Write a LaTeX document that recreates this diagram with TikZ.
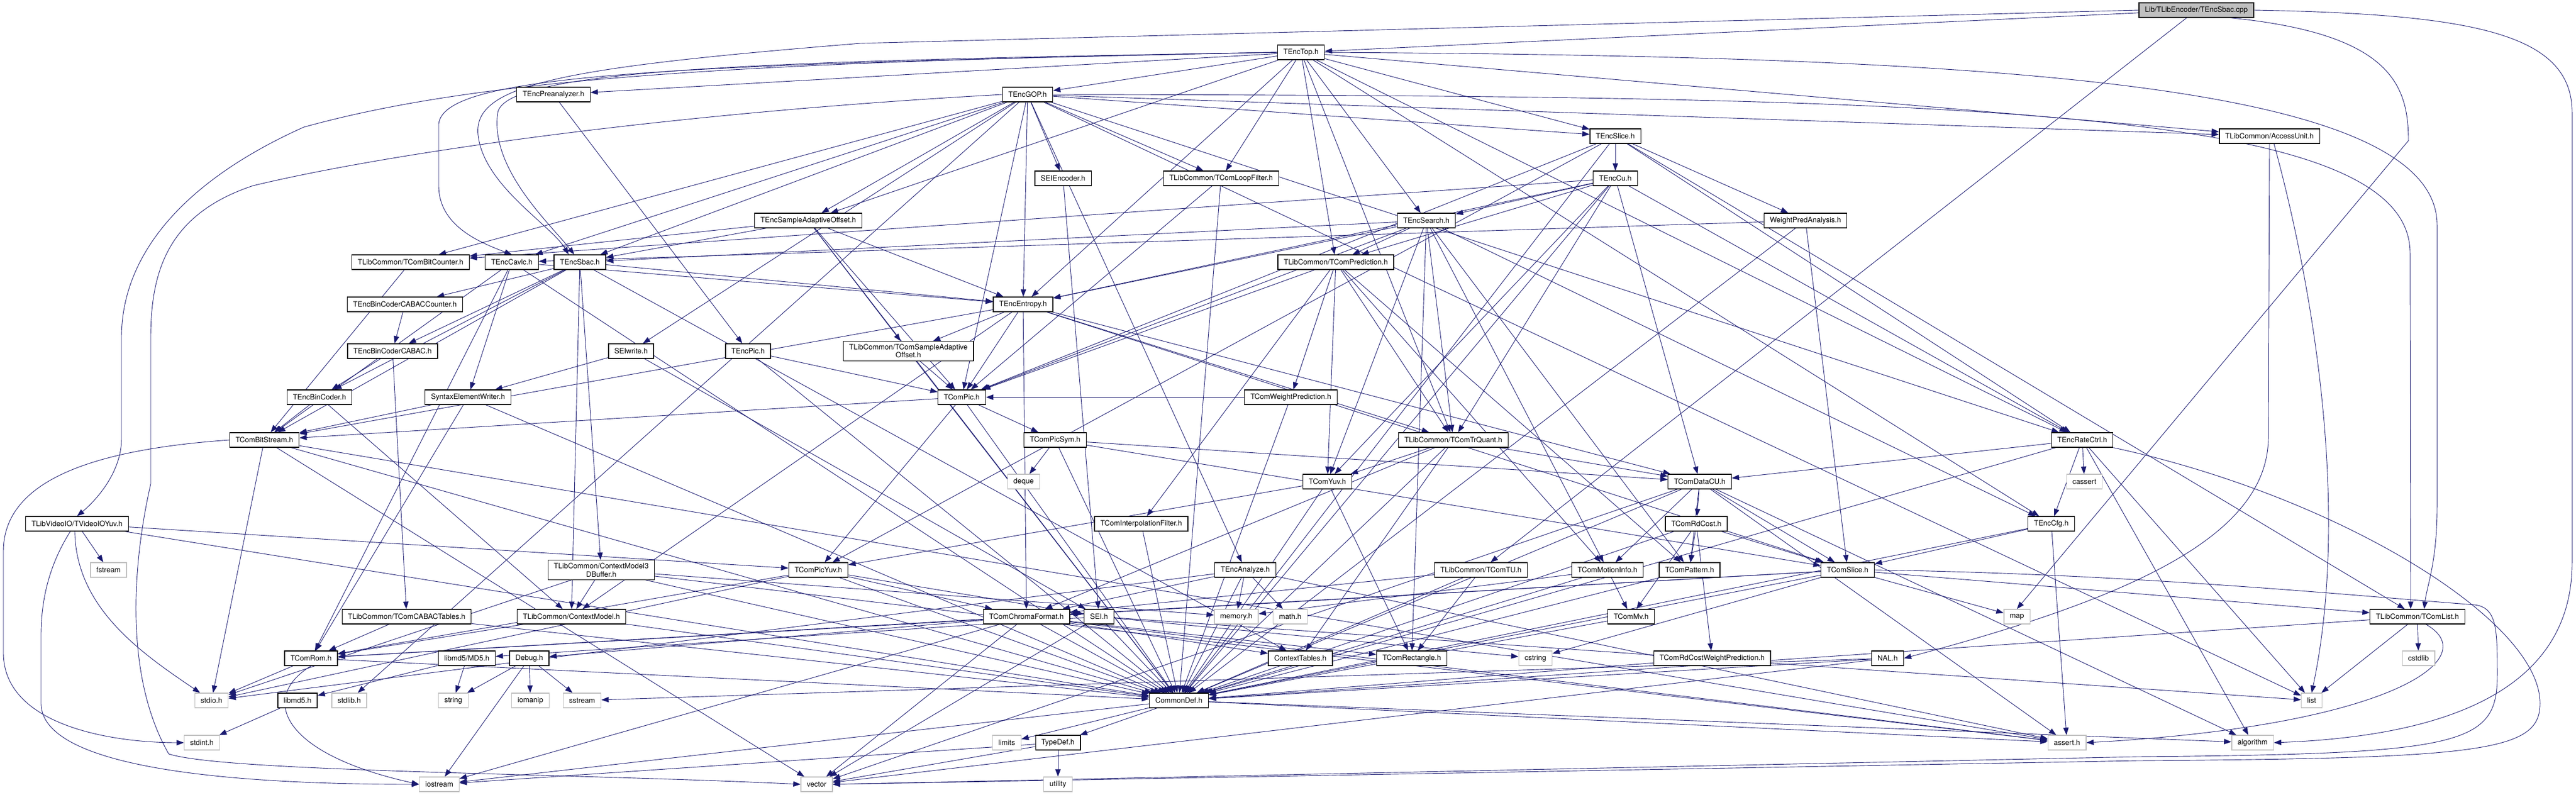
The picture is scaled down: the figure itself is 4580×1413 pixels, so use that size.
\documentclass[tikz,border=0pt]{standalone}
\usepackage{fontspec}
\setmainfont{TeX Gyre Heros}
\usetikzlibrary{arrows.meta}
\definecolor{eblue}{HTML}{191970}
\definecolor{sysgray}{HTML}{BFBFBF}
\newcommand{\dgfont}{\fontsize{13}{14.5}\selectfont}
\pgfdeclarelayer{bg}
\pgfsetlayers{bg,main}
\begin{document}
\begin{tikzpicture}[x=1pt,y=-1pt,
  nd/.style={draw=black, fill=white, line width=1.3pt, minimum height=26pt, inner xsep=10.5pt, inner ysep=2pt, font=\dgfont, text=black},
  twoln/.style={nd, align=center, inner ysep=5pt},
  sysnd/.style={nd, draw=sysgray},
  rootnd/.style={nd, fill=sysgray},
  edge/.style={draw=eblue, line width=0.9pt, -{Triangle[length=13pt,width=9.5pt]}}]
\useasboundingbox (0,0) rectangle (4580,1413);
\begin{pgfonlayer}{bg}
\fill[white] (0,0) rectangle (4580,1413);
\end{pgfonlayer}
% ---------- nodes ----------
\node[rootnd] (cpp) at (3905,18) {Lib/TLibEncoder/TEncSbac.cpp};
\node[nd] (top) at (2313,93) {TEncTop.h};
\node[nd] (prea) at (984,168) {TEncPreanalyzer.h};
\node[nd] (gop) at (1827,168) {TEncGOP.h};
\node[nd] (slice) at (2872,242) {TEncSlice.h};
\node[nd] (au) at (4035,242) {TLibCommon/AccessUnit.h};
\node[nd] (seienc) at (1890,317) {SEIEncoder.h};
\node[nd] (lf) at (2171,317) {TLibCommon/TComLoopFilter.h};
\node[nd] (cu) at (2872,317) {TEncCu.h};
\node[nd] (esao) at (1437,392) {TEncSampleAdaptiveOffset.h};
\node[nd] (search) at (2536,392) {TEncSearch.h};
\node[nd] (wpa) at (3210,392) {WeightPredAnalysis.h};
\node[nd] (bitcnt) at (730,466) {TLibCommon/TComBitCounter.h};
\node[nd] (cavlc) at (910,466) {TEncCavlc.h};
\node[nd] (sbac) at (1031,466) {TEncSbac.h};
\node[nd] (pred) at (2375,466) {TLibCommon/TComPrediction.h};
\node[nd] (cabaccnt) at (720,541) {TEncBinCoderCABACCounter.h};
\node[nd] (entropy) at (1819,541) {TEncEntropy.h};
\node[nd] (cabac) at (698,624) {TEncBinCoderCABAC.h};
\node[nd] (seiw) at (1122,624) {SEIwrite.h};
\node[nd] (encpic) at (1330,624) {TEncPic.h};
\node[twoln] (sao) at (1615,624) {TLibCommon/TComSampleAdaptive\\Offset.h};
\node[nd] (bincoder) at (568,706) {TEncBinCoder.h};
\node[nd] (sew) at (832,706) {SyntaxElementWriter.h};
\node[nd] (pic) at (1710,706) {TComPic.h};
\node[nd] (wp) at (2295,706) {TComWeightPrediction.h};
\node[nd] (bs) at (470,782) {TComBitStream.h};
\node[nd] (picsym) at (1876,782) {TComPicSym.h};
\node[nd] (trq) at (2584,782) {TLibCommon/TComTrQuant.h};
\node[nd] (rc) at (3702,782) {TEncRateCtrl.h};
\node[sysnd] (deque) at (1820,856) {deque};
\node[nd] (yuv) at (2360,856) {TComYuv.h};
\node[nd] (datacu) at (3022,856) {TComDataCU.h};
\node[sysnd] (cassert) at (3706,856) {cassert};
\node[nd] (vio) at (137,931) {TLibVideoIO/TVideoIOYuv.h};
\node[nd] (interp) at (2029,931) {TComInterpolationFilter.h};
\node[nd] (rdcost) at (3016,931) {TComRdCost.h};
\node[nd] (cfg) at (3647,931) {TEncCfg.h};
\node[sysnd] (fstream) at (193,1013) {fstream};
\node[twoln] (cm3d) at (1069,1013) {TLibCommon/ContextModel3\\DBuffer.h};
\node[nd] (picyuv) at (1455,1013) {TComPicYuv.h};
\node[nd] (analyze) at (2214,1013) {TEncAnalyze.h};
\node[nd] (tu) at (2633,1013) {TLibCommon/TComTU.h};
\node[nd] (mi) at (2858,1013) {TComMotionInfo.h};
\node[nd] (pattern) at (3004,1013) {TComPattern.h};
\node[nd] (tslice) at (3285,1013) {TComSlice.h};
\node[nd] (cabact) at (723,1096) {TLibCommon/TComCABACTables.h};
\node[nd] (cm) at (1016,1096) {TLibCommon/ContextModel.h};
\node[nd] (chroma) at (1825,1096) {TComChromaFormat.h};
\node[nd] (sei) at (1954,1096) {SEI.h};
\node[sysnd] (memory) at (2198,1096) {memory.h};
\node[sysnd] (math) at (2294,1096) {math.h};
\node[nd] (mv) at (2900,1096) {TComMv.h};
\node[sysnd] (map) at (3586,1096) {map};
\node[nd] (tlist) at (4298,1096) {TLibCommon/TComList.h};
\node[nd] (rom) at (553,1170) {TComRom.h};
\node[nd] (md5) at (830,1170) {libmd5/MD5.h};
\node[nd] (debug) at (941,1170) {Debug.h};
\node[nd] (ctxtab) at (2312,1170) {ContextTables.h};
\node[nd] (rect) at (2510,1170) {TComRectangle.h};
\node[sysnd] (cstring) at (2730,1170) {cstring};
\node[nd] (rdwp) at (3044,1170) {TComRdCostWeightPrediction.h};
\node[nd] (nal) at (3356,1170) {NAL.h};
\node[sysnd] (cstdlib) at (4300,1170) {cstdlib};
\node[sysnd] (stdio) at (376,1245) {stdio.h};
\node[nd] (libmd5) at (529,1245) {libmd5.h};
\node[sysnd] (stdlib) at (621,1245) {stdlib.h};
\node[sysnd] (string) at (806,1245) {string};
\node[sysnd] (iomanip) at (943,1245) {iomanip};
\node[sysnd] (sstream) at (1035,1245) {sstream};
\node[nd] (cdef) at (2096,1245) {CommonDef.h};
\node[sysnd] (list) at (4110,1245) {list};
\node[sysnd] (stdint) at (359,1320) {stdint.h};
\node[sysnd] (limits) at (1790,1320) {limits};
\node[nd] (typedef) at (1881,1320) {TypeDef.h};
\node[sysnd] (assert) at (3675,1320) {assert.h};
\node[sysnd] (algorithm) at (4005,1320) {algorithm};
\node[sysnd] (iostream) at (781,1394) {iostream};
\node[sysnd] (vector) at (1452,1394) {vector};
\node[sysnd] (utility) at (1881,1394) {utility};
% ---------- edges ----------
\begin{pgfonlayer}{bg}
\foreach \a/\b in {cpp/top, cpp/tu,
  top/prea, top/gop, top/lf, top/slice, top/search, top/pred, top/trq, top/au, top/rc, top/cfg, top/entropy, top/esao,
  gop/pic, gop/bitcnt, gop/lf, gop/au, gop/esao, gop/slice, gop/entropy, gop/cavlc, gop/sbac, gop/seiw, gop/seienc, gop/analyze, gop/rc, gop/list, gop/stdlib,
  slice/cdef, slice/tlist, slice/pic, slice/picyuv, slice/cu, slice/wpa, slice/rc,
  cu/cdef, cu/yuv, cu/pred, cu/trq, cu/bitcnt, cu/datacu, cu/entropy, cu/search, cu/rc,
  search/yuv, search/mi, search/pattern, search/pred, search/trq, search/pic, search/rect, search/entropy, search/sbac, search/cfg,
  wpa/tslice, wpa/cavlc, wpa/cdef,
  esao/cdef, esao/sao, esao/pic, esao/entropy, esao/sbac, esao/bitcnt,
  prea/encpic, bitcnt/bs,
  cavlc/cdef, cavlc/bs, cavlc/rom, cavlc/entropy, cavlc/sew,
  sbac/bs, sbac/ctxtab, sbac/cm, sbac/cm3d, sbac/entropy, sbac/bincoder, sbac/cabac, sbac/cabaccnt,
  cabaccnt/cabac, cabac/bincoder, cabac/cabact, bincoder/cm, bincoder/bs,
  entropy/tslice, entropy/datacu, entropy/bs, entropy/cm, entropy/pic, entropy/trq, entropy/sao, entropy/chroma,
  seiw/sew, seiw/sei, sew/cdef, sew/bs, sew/rom, encpic/cdef, encpic/pic, seienc/sei,
  lf/cdef, lf/pic, sao/cdef, sao/pic,
  pic/cdef, pic/picsym, pic/picyuv, pic/bs, wp/pic, wp/cdef,
  pred/yuv, pred/pic, pred/mi, pred/pattern, pred/trq, pred/interp, pred/wp,
  trq/cdef, trq/yuv, trq/datacu, trq/chroma, trq/ctxtab,
  picsym/cdef, picsym/tslice, picsym/datacu, picsym/deque,
  yuv/cdef, yuv/picyuv, yuv/rect,
  datacu/cdef, datacu/mi, datacu/tslice, datacu/rdcost, datacu/pattern, datacu/assert, datacu/algorithm, datacu/vector,
  rc/cdef, rc/datacu, rc/algorithm, rc/cfg, rc/list, rc/cassert,
  vio/fstream, vio/cdef, vio/picyuv, interp/cdef,
  rdcost/cdef, rdcost/pattern, rdcost/mv, rdcost/tslice, rdcost/rdwp,
  cfg/cdef, cfg/tslice, cfg/assert,
  cm3d/stdio, cm3d/assert, cm3d/memory, cm3d/cdef, cm3d/cm,
  picyuv/stdio, picyuv/cdef, picyuv/rom, picyuv/chroma, picyuv/sei,
  analyze/stdio, analyze/memory, analyze/assert, analyze/cdef, analyze/chroma, analyze/math,
  tu/chroma, tu/rect, tu/cdef, mi/memory, mi/cdef, mi/mv, pattern/cdef,
  tslice/cstring, tslice/map, tslice/cdef, tslice/rom, tslice/tlist, tslice/chroma,
  cabact/cdef, cabact/rom, cm/cdef, cm/rom,
  chroma/cdef, chroma/rect, chroma/ctxtab, chroma/rom, chroma/iostream, chroma/vector, chroma/assert, chroma/debug,
  sei/list, sei/vector, sei/cstring, sei/cdef, sei/md5, mv/cdef,
  tlist/list, tlist/cdef, tlist/cstdlib, rom/cdef, rom/stdio,
  md5/libmd5, md5/string, debug/string, debug/iomanip, debug/sstream, debug/iostream,
  rdwp/cdef, nal/vector, nal/sstream, nal/cdef, libmd5/stdint,
  cdef/limits, cdef/typedef, cdef/iostream, cdef/assert, cdef/algorithm,
  typedef/utility, typedef/vector, typedef/iostream,
  bs/vector, bs/stdio, bs/assert, bs/cdef}
  \draw[edge] (\a) -- (\b);
% curved connectors
\draw[edge] (cpp.west) -- (1530,77) .. controls (1000,120) and (840,150) .. (850,240) .. controls (860,330) and (980,400) .. ([xshift=-20pt]sbac.north);
\draw[edge] (top.west) .. controls (1400,108) and (900,120) .. (885,200) .. controls (870,300) and (980,400) .. ([xshift=-10pt]sbac.north);
\draw[edge] (top.west) .. controls (1200,115) and (790,130) .. (780,220) -- (780,330) .. controls (780,400) and (850,430) .. (cavlc.north);
\draw[edge] (top.west) .. controls (1300,110) and (850,140) .. (540,226) .. controls (330,320) and (216,450) .. (216,600) -- (216,780) .. controls (216,840) and (170,890) .. (vio.north);
\draw[edge] (gop.west) .. controls (1200,200) and (700,270) .. (450,330) .. controls (300,380) and (268,480) .. (268,600) -- (268,860) .. controls (236,1000) and (220,1200) .. (300,1340) .. controls (400,1372) and (1000,1374) .. (vector.west);
\draw[edge] (top.east) .. controls (3500,100) and (4333,140) .. (4333,400) -- (4333,900) .. controls (4333,1000) and (4315,1040) .. ([xshift=12pt]tlist.north);
\draw[edge] (gop.east) .. controls (3500,170) and (4285,190) .. (4285,450) -- ([xshift=-12pt]tlist.north);
\draw[edge] (cpp.east) .. controls (4400,25) and (4573,60) .. (4573,200) -- (4573,1000) .. controls (4573,1250) and (4300,1310) .. (algorithm.east);
\draw[edge] ([xshift=60pt]cpp.south) .. controls (4250,60) and (4282,150) .. (4282,250) -- (map.north);
\draw[edge] (au.south) -- (4033,780) .. controls (4030,950) and (3800,1060) .. (nal.east);
\draw[edge] ([xshift=8pt]au.south) .. controls (4110,500) and (4180,900) .. (list.north);
\draw[edge] ([xshift=15pt]tlist.south) .. controls (4420,1170) and (4250,1290) .. (assert.east);
\draw[edge] (rc.south east) .. controls (4150,880) and (4516,1100) .. (4516,1250) .. controls (4516,1335) and (4420,1348) .. (3800,1352) -- (vector.east);
\draw[edge] (tslice.east) .. controls (3800,1020) and (4200,1060) .. (4400,1075) .. controls (4440,1080) and (4440,1120) .. (4440,1200) .. controls (4440,1325) and (4380,1340) .. (3800,1345) -- (vector.east);
\draw[edge] (bs.west) .. controls (150,800) and (6,860) .. (6,980) -- (6,1160) .. controls (6,1290) and (200,1320) .. (stdint.west);
\draw[edge] ([xshift=-12pt]vio.south) .. controls (90,1000) and (73,1060) .. (73,1130) -- (73,1250) .. controls (73,1380) and (500,1394) .. (iostream.west);
\draw[edge] ([xshift=-4pt]vio.south) .. controls (135,1080) and (250,1160) .. (stdio);
\draw[edge] (rom.south) .. controls (460,1240) and (500,1340) .. (iostream.west);
\end{pgfonlayer}
\end{tikzpicture}
\end{document}
